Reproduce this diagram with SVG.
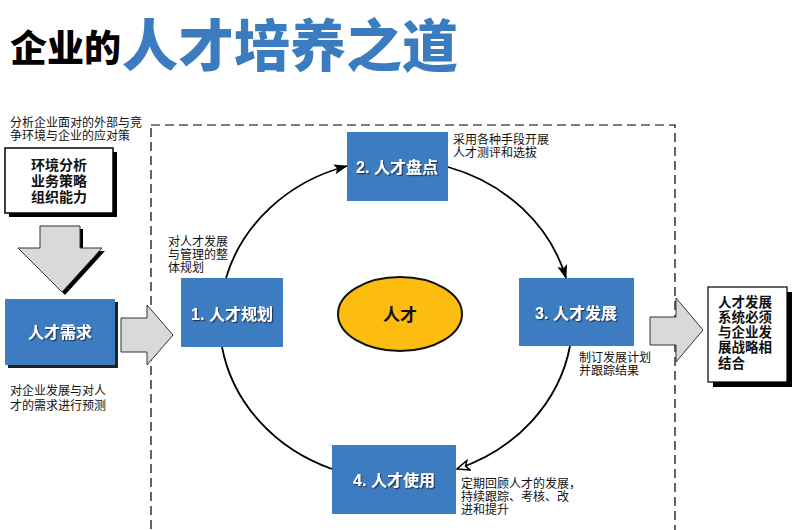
<svg xmlns="http://www.w3.org/2000/svg" width="800" height="530" viewBox="0 0 800 530">
<defs>
<style>
.cjk{font-family:"Noto Sans CJK SC","Liberation Sans",sans-serif;}
.note{font-family:"Liberation Sans","Noto Sans CJK SC",sans-serif;font-size:12px;fill:#111;}
.blue{fill:#3d7cc0;}
.blab{font-family:"Liberation Sans","Noto Sans CJK SC",sans-serif;font-size:16px;font-weight:bold;fill:#fff;text-anchor:middle;filter:url(#ts);}
.btxt{font-family:"Liberation Sans","Noto Sans CJK SC",sans-serif;font-weight:bold;fill:#111;}
.gray{fill:#d9d9d9;stroke:#333;stroke-width:1;}
.arc{fill:none;stroke:#000;stroke-width:1.8;}
</style>
<filter id="ts" x="-10%" y="-30%" width="130%" height="160%">
<feDropShadow dx="1.2" dy="1.2" stdDeviation="0.4" flood-color="#1a2f4a" flood-opacity="0.9"/>
</filter>
<marker id="ah" markerUnits="userSpaceOnUse" viewBox="0 0 14 10" markerWidth="14" markerHeight="10" refX="13" refY="5" orient="auto">
<path d="M0,0 L14,5 L0,10 L3,5 z" fill="#000"/>
</marker>
<marker id="ao" markerUnits="userSpaceOnUse" viewBox="0 0 14 12" markerWidth="14" markerHeight="12" refX="13" refY="6" orient="auto">
<path d="M1,1 L13,6 L1,11 L4,6 z" fill="#fff" stroke="#000" stroke-width="1.5"/>
</marker>
</defs>
<rect width="800" height="530" fill="#fff"/>

<g id="title">
<text x="10" y="62" class="cjk" font-size="37" font-weight="900" fill="#000">企业的</text>
<text x="122" y="66" class="cjk" font-size="56" font-weight="900" fill="#3b7bbf">人才培养之道</text>
</g>

<rect id="frame" x="151" y="125" width="524" height="420" fill="none" stroke="#000" stroke-width="1.2" stroke-dasharray="9,5"/>

<g id="env">
<text class="note" font-size="11.5"><tspan x="10" y="127">分析企业面对的外部与竞</tspan><tspan x="10" y="140">争环境与企业的应对策</tspan></text>
<rect x="9" y="152" width="108" height="65" fill="#000"/>
<rect x="5" y="148" width="108" height="65" fill="#fff" stroke="#000" stroke-width="1.5"/>
<text class="btxt" font-size="14" text-anchor="middle"><tspan x="59" y="170">环境分析</tspan><tspan x="59" y="186">业务策略</tspan><tspan x="59" y="202">组织能力</tspan></text>
</g>

<g id="downArrow">
<path d="M43,229 L83,229 L83,251 L105,251 L65,295 L21,251 L43,251 z" fill="#000"/>
<path d="M40,226 L80,226 L80,248 L102,248 L62,292 L18,248 L40,248 z" class="gray"/>
</g>

<g id="demand">
<rect x="8" y="302" width="110" height="66" fill="#222"/>
<rect x="5" y="299" width="110" height="66" class="blue"/>
<text class="blab" x="60" y="338">人才需求</text>
<text class="note" font-size="12.5"><tspan x="10" y="395">对企业发展与对人</tspan><tspan x="10" y="410">才的需求进行预测</tspan></text>
</g>

<g id="arrowIn">
<path d="M121,318 L147,318 L147,305 L173,335 L147,365 L147,352 L121,352 z" class="gray"/>
</g>

<g id="connectors">
<path class="arc" d="M226,278 A176,160 0 0 1 347,166" marker-end="url(#ah)"/>
<path class="arc" d="M448,167 A176,160 0 0 1 566,278" marker-end="url(#ah)"/>
<path class="arc" d="M570,346 A176,160 0 0 1 457,469" marker-end="url(#ao)"/>
<path class="arc" d="M332,469 A176,160 0 0 1 222,347"/>
</g>

<g id="node1">
<rect x="181" y="278" width="102" height="69" class="blue"/>
<text class="blab" x="232" y="320">1. 人才规划</text>
<text class="note"><tspan x="168" y="246">对人才发展</tspan><tspan x="168" y="259">与管理的整</tspan><tspan x="168" y="272">体规划</tspan></text>
</g>

<g id="node2">
<rect x="347" y="132" width="101" height="69" class="blue"/>
<text class="blab" x="397" y="173">2. 人才盘点</text>
<text class="note"><tspan x="453" y="144">采用各种手段开展</tspan><tspan x="453" y="157">人才测评和选拔</tspan></text>
</g>

<g id="node3">
<rect x="519" y="278" width="115" height="68" class="blue"/>
<text class="blab" x="576" y="319">3. 人才发展</text>
<text class="note"><tspan x="579" y="362">制订发展计划</tspan><tspan x="579" y="375">并跟踪结果</tspan></text>
</g>

<g id="node4">
<rect x="332" y="445" width="124" height="69" class="blue"/>
<text class="blab" x="394" y="486">4. 人才使用</text>
<text class="note"><tspan x="461" y="488">定期回顾人才的发展，</tspan><tspan x="461" y="501">持续跟踪、考核、改</tspan><tspan x="461" y="514">进和提升</tspan></text>
</g>

<g id="center">
<ellipse cx="400" cy="314" rx="62" ry="37" fill="#fcbc10" stroke="#111" stroke-width="2"/>
<text class="btxt" font-size="17" x="400" y="321" text-anchor="middle">人才</text>
</g>

<g id="arrowOut">
<path d="M650,317 L676,317 L676,298 L703,330 L676,362 L676,345 L650,345 z" class="gray"/>
</g>

<g id="result">
<rect x="713" y="292" width="79" height="95" fill="#000"/>
<rect x="708" y="287" width="79" height="95" fill="#fff" stroke="#000" stroke-width="1.2"/>
<text class="btxt" font-size="13.5"><tspan x="718" y="307">人才发展</tspan><tspan x="718" y="322">系统必须</tspan><tspan x="718" y="337">与企业发</tspan><tspan x="718" y="352">展战略相</tspan><tspan x="718" y="368">结合</tspan></text>
</g>
</svg>
